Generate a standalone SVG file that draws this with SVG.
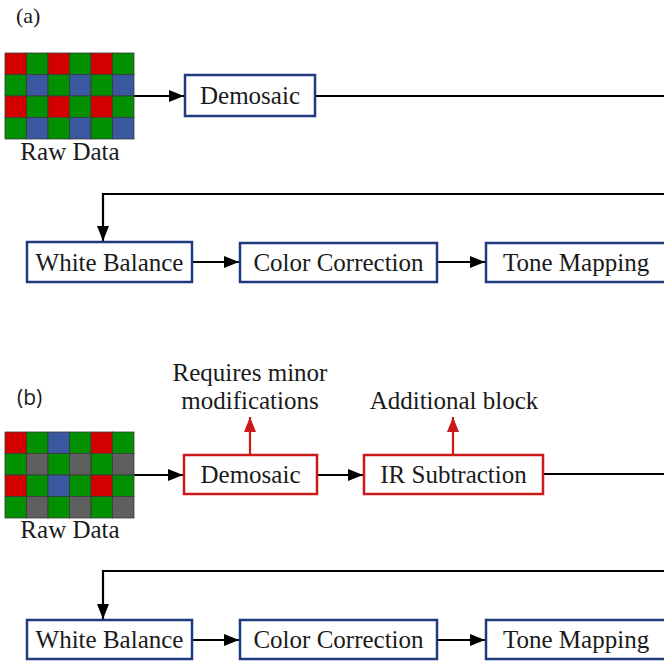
<svg xmlns="http://www.w3.org/2000/svg" width="664" height="661" viewBox="0 0 664 661">
<style>
  text { font-family: "Liberation Serif", "Times New Roman", serif; font-size: 25px; fill: #1a1a1a; }
  .lbl { text-anchor: middle; }
  .box { fill: #ffffff; stroke: #1f3a7e; stroke-width: 2.5; }
  .rbox { fill: #ffffff; stroke: #cc1a1a; stroke-width: 2.5; }
  .ln { fill: none; stroke: #000000; stroke-width: 2.2; }
  .rln { fill: none; stroke: #cc1a1a; stroke-width: 2.2; }
  .R { fill: #d40000; }
  .G { fill: #009000; }
  .B { fill: #3a58a0; }
  .K { fill: #5f5f5f; }
  .cell { stroke: #3a3a3a; stroke-width: 0.8; }
</style>
<defs>
  <marker id="ah" markerUnits="userSpaceOnUse" markerWidth="16" markerHeight="12" refX="15" refY="6" orient="auto">
    <path d="M0,0 L15,6 L0,12 Z" fill="#000000"/>
  </marker>
  <marker id="rah" markerUnits="userSpaceOnUse" markerWidth="16" markerHeight="12" refX="15" refY="6" orient="auto">
    <path d="M0,0 L15,6 L0,12 Z" fill="#cc1a1a"/>
  </marker>
  <g id="row-rg" class="cell">
    <rect class="R" x="0" y="0" width="21.5" height="21.5"/>
    <rect class="G" x="21.5" y="0" width="21.5" height="21.5"/>
    <rect class="R" x="43" y="0" width="21.5" height="21.5"/>
    <rect class="G" x="64.5" y="0" width="21.5" height="21.5"/>
    <rect class="R" x="86" y="0" width="21.5" height="21.5"/>
    <rect class="G" x="107.5" y="0" width="21.5" height="21.5"/>
  </g>
  <g id="row-gb" class="cell">
    <rect class="G" x="0" y="0" width="21.5" height="21.5"/>
    <rect class="B" x="21.5" y="0" width="21.5" height="21.5"/>
    <rect class="G" x="43" y="0" width="21.5" height="21.5"/>
    <rect class="B" x="64.5" y="0" width="21.5" height="21.5"/>
    <rect class="G" x="86" y="0" width="21.5" height="21.5"/>
    <rect class="B" x="107.5" y="0" width="21.5" height="21.5"/>
  </g>
  <g id="row-rgb" class="cell">
    <rect class="R" x="0" y="0" width="21.5" height="21.5"/>
    <rect class="G" x="21.5" y="0" width="21.5" height="21.5"/>
    <rect class="B" x="43" y="0" width="21.5" height="21.5"/>
    <rect class="G" x="64.5" y="0" width="21.5" height="21.5"/>
    <rect class="R" x="86" y="0" width="21.5" height="21.5"/>
    <rect class="G" x="107.5" y="0" width="21.5" height="21.5"/>
  </g>
  <g id="row-gk" class="cell">
    <rect class="G" x="0" y="0" width="21.5" height="21.5"/>
    <rect class="K" x="21.5" y="0" width="21.5" height="21.5"/>
    <rect class="G" x="43" y="0" width="21.5" height="21.5"/>
    <rect class="K" x="64.5" y="0" width="21.5" height="21.5"/>
    <rect class="G" x="86" y="0" width="21.5" height="21.5"/>
    <rect class="K" x="107.5" y="0" width="21.5" height="21.5"/>
  </g>
</defs>
<rect width="664" height="661" fill="#ffffff"/>

<!-- panel labels -->
<text x="16" y="23" style="font-size:22px">(a)</text>
<text x="17" y="405" style="font-family:'Open Sans','Liberation Sans',sans-serif;font-size:21px">(b)</text>

<!-- connectors -->
<g id="connectors">
  <path class="ln" d="M134,96 L184,96" marker-end="url(#ah)"/>
  <path class="ln" d="M315,96 L664,96"/>
  <path class="ln" d="M664,194 L103,194 L103,241" marker-end="url(#ah)"/>
  <path class="ln" d="M192,262 L239,262" marker-end="url(#ah)"/>
  <path class="ln" d="M437,262 L485,262" marker-end="url(#ah)"/>

  <path class="ln" d="M134,475 L183,475" marker-end="url(#ah)"/>
  <path class="ln" d="M317,475 L363,475" marker-end="url(#ah)"/>
  <path class="ln" d="M543,474 L664,474"/>
  <path class="ln" d="M664,571 L103,571 L103,619" marker-end="url(#ah)"/>
  <path class="ln" d="M192,640 L239,640" marker-end="url(#ah)"/>
  <path class="ln" d="M437,640 L485,640" marker-end="url(#ah)"/>

  <path class="rln" d="M250,455 L250,417" marker-end="url(#rah)"/>
  <path class="rln" d="M453,455 L453,417" marker-end="url(#rah)"/>
</g>

<!-- (a) -->
<g id="a-raw">
  <use href="#row-rg" x="5" y="53"/>
  <use href="#row-gb" x="5" y="74.5"/>
  <use href="#row-rg" x="5" y="96"/>
  <use href="#row-gb" x="5" y="117.5"/>
  <text class="lbl" x="70" y="160">Raw Data</text>
</g>
<g id="a-demosaic">
  <rect class="box" x="185" y="75" width="130" height="41"/>
  <text class="lbl" x="250" y="104">Demosaic</text>
</g>
<g id="a-wb">
  <rect class="box" x="27" y="242" width="165" height="40"/>
  <text class="lbl" x="109.5" y="271">White Balance</text>
</g>
<g id="a-cc">
  <rect class="box" x="240" y="243" width="197" height="39"/>
  <text class="lbl" x="338.5" y="271">Color Correction</text>
</g>
<g id="a-tm">
  <rect class="box" x="486" y="243" width="190" height="39"/>
  <text x="503" y="271">Tone Mapping</text>
</g>

<!-- (b) -->
<g id="b-raw">
  <use href="#row-rgb" x="5" y="432"/>
  <use href="#row-gk" x="5" y="453.5"/>
  <use href="#row-rgb" x="5" y="475"/>
  <use href="#row-gk" x="5" y="496.5"/>
  <text class="lbl" x="70" y="538">Raw Data</text>
</g>
<g id="b-note1">
  <text class="lbl" x="250" y="381">Requires minor</text>
  <text class="lbl" x="250" y="409">modifications</text>
</g>
<g id="b-note2">
  <text class="lbl" x="454" y="409">Additional block</text>
</g>
<g id="b-demosaic">
  <rect class="rbox" x="184" y="455" width="133" height="39"/>
  <text class="lbl" x="250.5" y="483">Demosaic</text>
</g>
<g id="b-ir">
  <rect class="rbox" x="364" y="455" width="179" height="39"/>
  <text class="lbl" x="453.5" y="483">IR Subtraction</text>
</g>
<g id="b-wb">
  <rect class="box" x="27" y="620" width="165" height="39"/>
  <text class="lbl" x="109.5" y="648">White Balance</text>
</g>
<g id="b-cc">
  <rect class="box" x="240" y="620" width="197" height="39"/>
  <text class="lbl" x="338.5" y="648">Color Correction</text>
</g>
<g id="b-tm">
  <rect class="box" x="486" y="620" width="190" height="39"/>
  <text x="503" y="648">Tone Mapping</text>
</g>
</svg>
